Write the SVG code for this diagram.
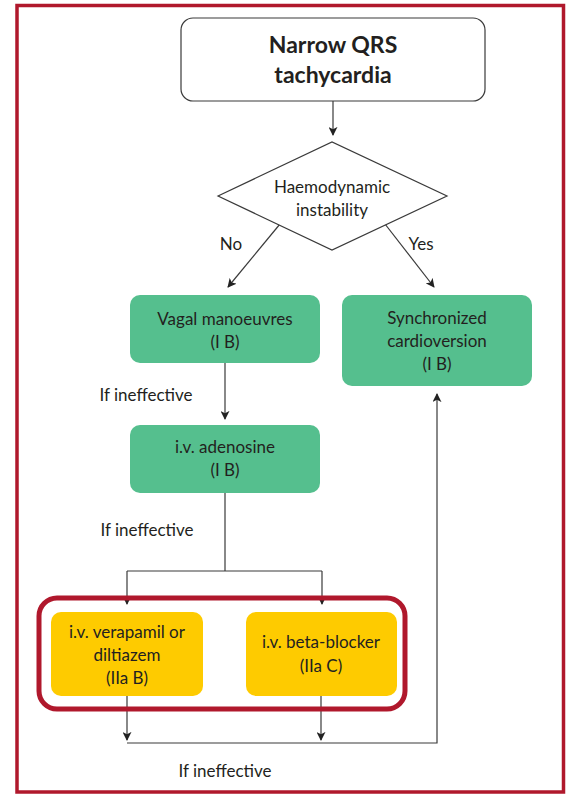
<svg xmlns="http://www.w3.org/2000/svg" width="567" height="794" viewBox="0 0 567 794">
  <defs>
    <marker id="arrow" viewBox="0 0 10 10" refX="9" refY="5" markerWidth="9" markerHeight="9" markerUnits="userSpaceOnUse" orient="auto">
      <path d="M0,0 L10,5 L0,10 L2.5,5 Z" fill="#222"/>
    </marker>
  </defs>
  <style>
    text { font-family: "Lato", "Open Sans", "Liberation Sans", sans-serif; fill: #231f20; text-anchor: middle; }
    .t { font-size: 17px; }
    .title { font-size: 23px; font-weight: bold; }
    .green { fill: #55bf8e; }
    .yellow { fill: #fecb00; }
    .wire { fill: none; stroke: #3a3a3a; stroke-width: 1.2; }
  </style>

  <rect width="567" height="794" fill="#ffffff"/>
  <!-- page frame -->
  <rect x="17" y="5.5" width="546.5" height="786.5" fill="none" stroke="#b0182c" stroke-width="3.5"/>

  <!-- connectors -->
  <g id="connectors" class="wire">
    <path d="M333,101 V135" marker-end="url(#arrow)"/>
    <path d="M280,224 L228,287" marker-end="url(#arrow)"/>
    <path d="M385,224 L434,287" marker-end="url(#arrow)"/>
    <path d="M225,363 V419" marker-end="url(#arrow)"/>
    <path d="M225,493 V571 M127,571 H322"/>
    <path d="M127,571 V604" marker-end="url(#arrow)"/>
    <path d="M322,571 V604" marker-end="url(#arrow)"/>
    <path d="M127,696 V740" marker-end="url(#arrow)"/>
    <path d="M321,696 V740" marker-end="url(#arrow)"/>
    <path d="M127,743 H437 V394" marker-end="url(#arrow)"/>
  </g>

  <!-- highlight around the drug options -->
  <rect x="39" y="598" width="366" height="111" rx="18" fill="none" stroke="#b0182c" stroke-width="5"/>

  <g id="start">
    <rect x="181" y="18" width="304" height="83" rx="12" fill="#ffffff" stroke="#3a3a3a" stroke-width="1.2"/>
    <text class="title" x="333" y="53">Narrow QRS</text>
    <text class="title" x="333" y="83">tachycardia</text>
  </g>

  <g id="instability">
    <path d="M218,196 L332,142 L447,196 L332,250 Z" fill="#ffffff" stroke="#3a3a3a" stroke-width="1.2"/>
    <text class="t" x="332" y="193">Haemodynamic</text>
    <text class="t" x="332" y="216">instability</text>
  </g>

  <g id="labels">
    <text class="t" x="231" y="250">No</text>
    <text class="t" x="421" y="250">Yes</text>
    <text class="t" x="146" y="401">If ineffective</text>
    <text class="t" x="147" y="536">If ineffective</text>
    <text class="t" x="225" y="777">If ineffective</text>
  </g>

  <g id="vagal">
    <rect class="green" x="130" y="295" width="190" height="68" rx="10"/>
    <text class="t" x="225" y="325">Vagal manoeuvres</text>
    <text class="t" x="225" y="348">(I B)</text>
  </g>

  <g id="cardioversion">
    <rect class="green" x="342" y="295" width="190" height="91" rx="10"/>
    <text class="t" x="437" y="324">Synchronized</text>
    <text class="t" x="437" y="347">cardioversion</text>
    <text class="t" x="437" y="370">(I B)</text>
  </g>

  <g id="adenosine">
    <rect class="green" x="130" y="425" width="190" height="68" rx="10"/>
    <text class="t" x="225" y="453">i.v. adenosine</text>
    <text class="t" x="225" y="476">(I B)</text>
  </g>

  <g id="verapamil">
    <rect class="yellow" x="51" y="612" width="152" height="84" rx="10"/>
    <text class="t" x="127" y="638">i.v. verapamil or</text>
    <text class="t" x="127" y="661">diltiazem</text>
    <text class="t" x="127" y="684">(IIa B)</text>
  </g>

  <g id="betablocker">
    <rect class="yellow" x="246" y="612" width="151" height="84" rx="10"/>
    <text class="t" x="321" y="648">i.v. beta-blocker</text>
    <text class="t" x="321" y="672">(IIa C)</text>
  </g>
</svg>
